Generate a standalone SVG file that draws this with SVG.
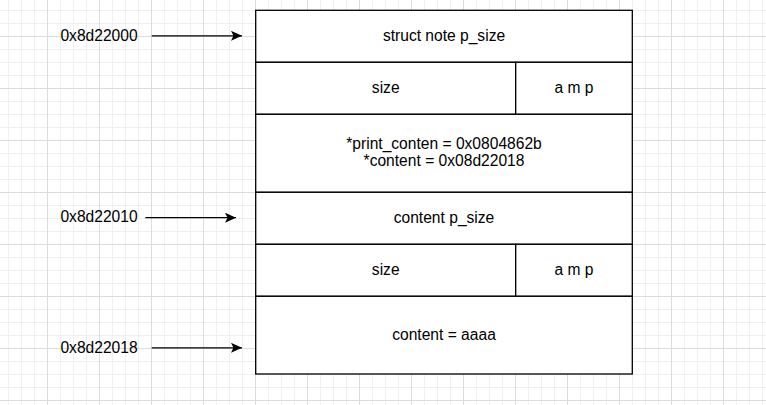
<svg xmlns="http://www.w3.org/2000/svg" width="766" height="405" viewBox="0 0 766 405">
  <defs>
    <pattern id="minor" width="13" height="13" patternUnits="userSpaceOnUse" x="8" y="10">
      <path d="M0.5 0V13M0 0.5H13" stroke="#f0f0f0" stroke-width="1" fill="none"/>
    </pattern>
    <pattern id="major" width="52" height="52" patternUnits="userSpaceOnUse" x="47" y="36">
      <path d="M0.5 0V52M0 0.5H52" stroke="#dcdcdc" stroke-width="1" fill="none"/>
    </pattern>
    <marker id="arrow" viewBox="0 0 11 10" refX="11" refY="5" markerWidth="11" markerHeight="10" markerUnits="userSpaceOnUse" orient="auto">
      <path d="M0 0L11 5L0 10L2.5 5Z" fill="#000"/>
    </marker>
  </defs>
  <style>
    .cell { fill: #fff; stroke: #000; stroke-width: 1.3; }
    .t { font-family: "Liberation Sans", Arial, sans-serif; font-size: 15.6px; fill: #000; text-anchor: middle; }
    .conn { stroke: #000; stroke-width: 1.3; fill: none; marker-end: url(#arrow); }
  </style>
  <rect width="766" height="405" fill="#fff"/>
  <rect width="766" height="405" fill="url(#minor)"/>
  <rect width="766" height="405" fill="url(#major)"/>

  <g id="node-struct-note">
    <rect class="cell" x="255.7" y="10.3" width="376.6" height="52"/>
    <text class="t" x="444" y="40.7">struct note p_size</text>
  </g>
  <g id="node-size1">
    <rect class="cell" x="255.7" y="62.3" width="260" height="52"/>
    <text class="t" x="385.7" y="92.7">size</text>
  </g>
  <g id="node-amp1">
    <rect class="cell" x="515.7" y="62.3" width="116.6" height="52"/>
    <text class="t" x="574" y="92.7">a m p</text>
  </g>
  <g id="node-pointers">
    <rect class="cell" x="255.7" y="114.3" width="376.6" height="78"/>
    <text class="t" x="444" y="149.4">*print_conten = 0x0804862b</text>
    <text class="t" x="444" y="165.8">*content = 0x08d22018</text>
  </g>
  <g id="node-content-psize">
    <rect class="cell" x="255.7" y="192.3" width="376.6" height="52"/>
    <text class="t" x="444" y="222.7">content p_size</text>
  </g>
  <g id="node-size2">
    <rect class="cell" x="255.7" y="244.3" width="260" height="52"/>
    <text class="t" x="385.7" y="274.7">size</text>
  </g>
  <g id="node-amp2">
    <rect class="cell" x="515.7" y="244.3" width="116.6" height="52"/>
    <text class="t" x="574" y="274.7">a m p</text>
  </g>
  <g id="node-content-data">
    <rect class="cell" x="255.7" y="296.3" width="376.6" height="77.7"/>
    <text class="t" x="444" y="339.6">content = aaaa</text>
  </g>

  <g id="label-0x8d22000">
    <text class="t" x="99" y="40.7">0x8d22000</text>
  </g>
  <g id="label-0x8d22010">
    <text class="t" x="99" y="222.3">0x8d22010</text>
  </g>
  <g id="label-0x8d22018">
    <text class="t" x="99" y="352.5">0x8d22018</text>
  </g>

  <g id="connectors">
    <path class="conn" d="M151.7 35.8H242"/>
    <path class="conn" d="M145.3 217.7H236"/>
    <path class="conn" d="M151.7 347.8H242"/>
  </g>
</svg>
